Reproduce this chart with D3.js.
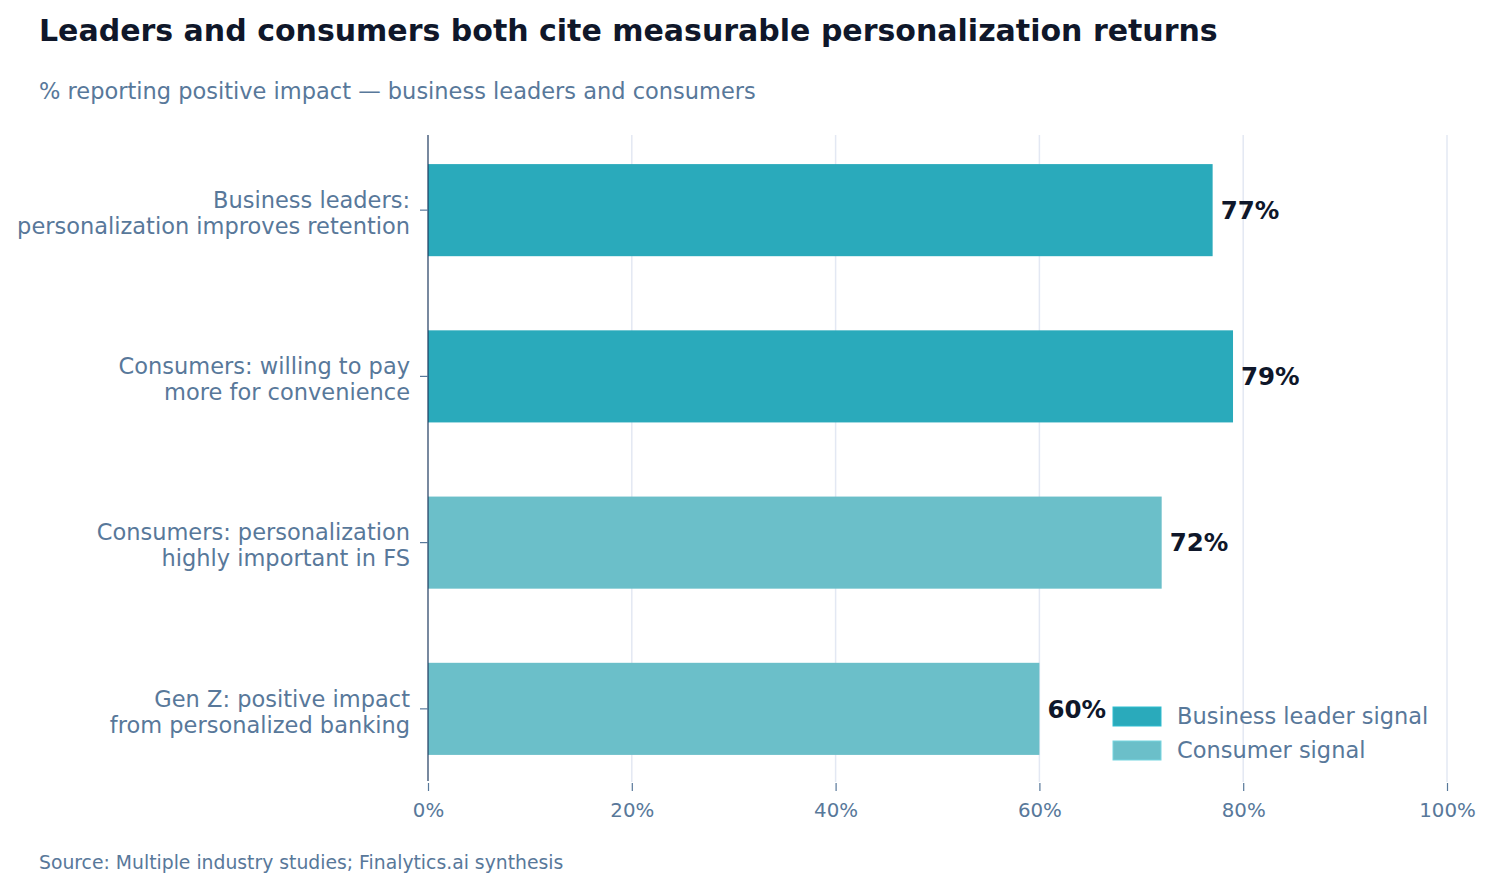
<!DOCTYPE html>
<html>
<head>
<meta charset="utf-8">
<script src="https://cdn.jsdelivr.net/npm/d3@7"></script>
<style>
  html, body { margin: 0; padding: 0; background: #ffffff; }
  svg { display: block; font-family: "DejaVu Sans", sans-serif; }
</style>
</head>
<body>
<svg id="chart" width="1495" height="891"></svg>
<script>
const categories = [
  ["Business leaders:", "personalization improves retention"],
  ["Consumers: willing to pay", "more for convenience"],
  ["Consumers: personalization", "highly important in FS"],
  ["Gen Z: positive impact", "from personalized banking"]
];
const values = [77, 79, 72, 60];
const groups = ["leader", "leader", "consumer", "consumer"];
const legendLabels = ["Business leader signal", "Consumer signal"];
const xTicks = [0, 20, 40, 60, 80, 100];

const colors = { leader: "#2aaabb", consumer: "#6bbfc9" };
const textMuted = "#58789a";
const svg = d3.select("#chart");

const margin = { left: 428, right: 48, top: 135, bottom: 109 };
const W = 1495, H = 891;
const x = d3.scaleLinear().domain([0, 100]).range([margin.left, W - margin.right]);
const y = d3.scaleBand().domain(d3.range(categories.length))
  .range([margin.top + 1, H - margin.bottom + 1]).paddingInner(0.446).paddingOuter(0.169);

// Title & subtitle
svg.append("text").attr("x", 39).attr("y", 41).attr("font-size", 30).attr("font-weight", "bold")
  .attr("fill", "#0f172a").text("Leaders and consumers both cite measurable personalization returns");
svg.append("text").attr("x", 39).attr("y", 99).attr("font-size", 22.5)
  .attr("fill", textMuted).text("% reporting positive impact — business leaders and consumers");

// Gridlines
svg.append("g").selectAll("line").data(xTicks.filter(d => d > 0)).join("line")
  .attr("x1", d => x(d)).attr("x2", d => x(d))
  .attr("y1", margin.top).attr("y2", H - margin.bottom)
  .attr("stroke", "#e3e8f3").attr("stroke-width", 1.5);

// Bars
svg.append("g").selectAll("rect").data(values).join("rect")
  .attr("x", x(0)).attr("y", (d, i) => y(i))
  .attr("width", d => x(d) - x(0)).attr("height", y.bandwidth())
  .attr("fill", (d, i) => colors[groups[i]]);

// Value labels
svg.append("g").selectAll("text").data(values).join("text")
  .attr("x", d => x(d) + 8).attr("y", (d, i) => y(i) + y.bandwidth() / 2)
  .attr("dy", "0.36em").attr("font-size", 24.5).attr("font-weight", "bold")
  .attr("fill", "#0f172a").text(d => d + "%");

// X axis
const xAxis = d3.axisBottom(x).tickValues(xTicks).tickFormat(d => d + "%").tickSize(8).tickPadding(12);
const gx = svg.append("g").attr("transform", `translate(0,${H - margin.bottom + 1})`).call(xAxis);
gx.select(".domain").remove();
gx.selectAll(".tick line").attr("stroke", "#58789a").attr("stroke-width", 1.2);
gx.selectAll(".tick text").attr("fill", textMuted).attr("font-size", 19.8)
  .attr("font-family", "DejaVu Sans, sans-serif");

// Y axis
const yAxis = d3.axisLeft(y).tickFormat("").tickSize(8).tickPadding(10);
const gy = svg.append("g").attr("transform", `translate(${x(0)},0)`).call(yAxis);
gy.select(".domain").attr("stroke", "#1e3a5f").attr("stroke-width", 1.2)
  .attr("d", `M0,${margin.top}V${H - margin.bottom - 1}`);
gy.selectAll(".tick line").attr("stroke", "#58789a").attr("stroke-width", 1.2);
gy.selectAll(".tick").each(function(d) {
  const t = d3.select(this).append("text").attr("x", -18).attr("text-anchor", "end")
    .attr("fill", textMuted).attr("font-size", 22.5).attr("font-family", "DejaVu Sans, sans-serif");
  categories[d].forEach((line, k) => {
    t.append("tspan").attr("x", -18).attr("y", (k - 0.5) * 26 + 3).attr("dy", "0.35em").text(line);
  });
});

// Legend
const lg = svg.append("g").attr("transform", "translate(1113,707)");
legendLabels.forEach((lab, i) => {
  const key = i === 0 ? "leader" : "consumer";
  lg.append("rect").attr("x", 0).attr("y", i * 34).attr("width", 48).attr("height", 19)
    .attr("fill", colors[key]).attr("stroke", d3.color(colors[key]).brighter(0.3)).attr("stroke-width", 1);
  lg.append("text").attr("x", 64).attr("y", i * 34 + 9.5).attr("dy", "0.35em")
    .attr("font-size", 22.5).attr("fill", textMuted).text(lab);
});

// Source
svg.append("text").attr("x", 39).attr("y", 869).attr("font-size", 18.8)
  .attr("fill", textMuted).text("Source: Multiple industry studies; Finalytics.ai synthesis");
</script>
</body>
</html>
